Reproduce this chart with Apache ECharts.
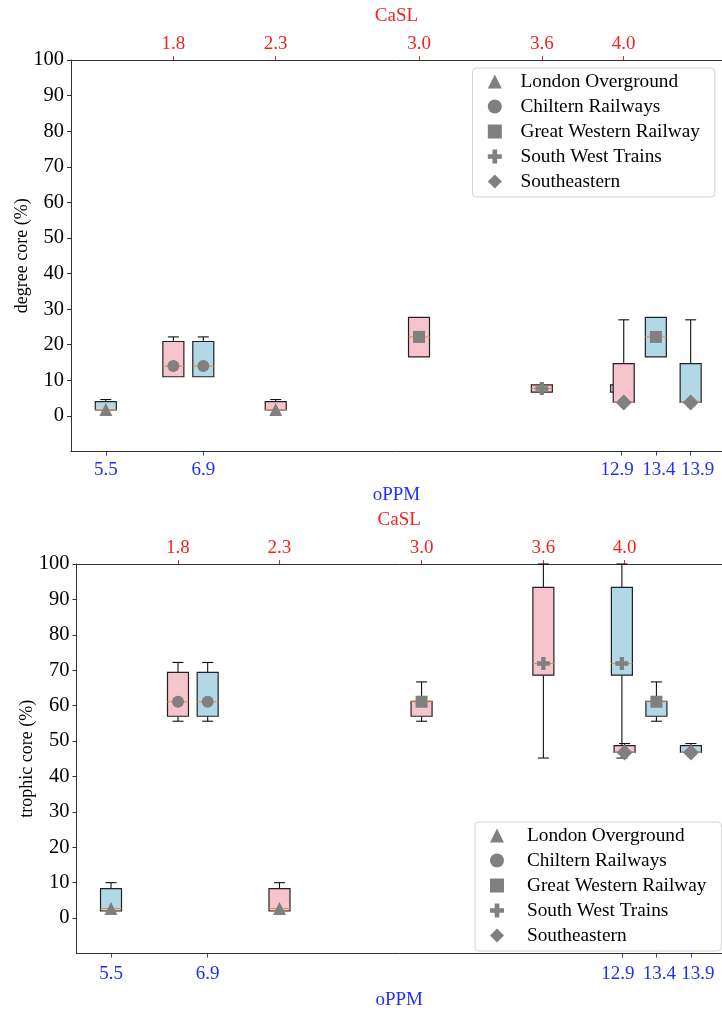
<!DOCTYPE html>
<html>
<head>
<meta charset="utf-8">
<script src="https://cdn.jsdelivr.net/npm/echarts@6/dist/echarts.min.js"></script>
<style>
  html, body { margin: 0; padding: 0; background: #fff; }
  #chart { width: 722px; height: 1013px; }
</style>
</head>
<body>
<div id="chart"></div>
<script>
// Operators and their two positions: CaSL (top axis, pink boxes) and oPPM (bottom axis, blue boxes)
const operators = ['London Overground', 'Chiltern Railways', 'Great Western Railway', 'South West Trains', 'Southeastern'];
const caslPos = [2.3, 1.8, 3.0, 3.6, 4.0];
const oppmPos = [5.5, 6.9, 13.4, 12.9, 13.9];

// Tick labels
const caslTicks = [1.8, 2.3, 3.0, 3.6, 4.0];
const oppmTicks = [5.5, 6.9, 12.9, 13.4, 13.9];
const yTicks = [0, 10, 20, 30, 40, 50, 60, 70, 80, 90, 100];

// Five-number summaries per operator: [min, q1, median, q3, max]
const degreeCore = [
  [1.7, 1.7, 1.8, 4.0, 4.6],
  [11.0, 11.0, 14.0, 20.9, 22.2],
  [16.6, 16.6, 22.2, 27.7, 27.7],
  [6.7, 6.7, 7.7, 8.7, 8.7],
  [3.8, 3.8, 3.8, 14.7, 27.0]
];
const trophicCore = [
  [2.0, 2.0, 2.7, 8.3, 10.0],
  [55.6, 57.0, 61.1, 69.4, 72.2],
  [55.6, 57.0, 61.1, 61.2, 66.7],
  [45.2, 68.6, 71.9, 93.4, 100],
  [46.8, 46.8, 46.8, 48.7, 49.3]
];

const PLUS = 'path://M4,0H8V4H12V8H8V12H4V8H0V4H4Z';
const markerShapes = ['triangle', 'circle', 'rect', PLUS, 'diamond'];
const markerSizes = [13, 12, 12, 13, 16];

// The crowded oPPM labels on the right are nudged apart (px, + = right)
const oppmLabelNudge = [0, 0, -4, 3, 7];

const FONT = "'Liberation Serif', 'Times New Roman', serif";
const RED = '#f52020';
const BLUE = '#2030f5';
const AXIS = '#333';
const MARKER = '#808080';

const chart = echarts.init(document.getElementById('chart'), null, { renderer: 'canvas' });

function boxRenderer(fill) {
  return function (params, api) {
    const x = api.value(0);
    const vMin = api.value(1), vQ1 = api.value(2), vMed = api.value(3), vQ3 = api.value(4), vMax = api.value(5);
    const pMin = api.coord([x, vMin]);
    const pQ1 = api.coord([x, vQ1]);
    const pMed = api.coord([x, vMed]);
    const pQ3 = api.coord([x, vQ3]);
    const pMax = api.coord([x, vMax]);
    const cx = pMed[0];
    const hw = 10.5, cw = 5.5;
    const lineStyle = { stroke: '#111', lineWidth: 1.1 };
    const children = [];
    if (vMax > vQ3) {
      children.push({ type: 'line', shape: { x1: cx, y1: pQ3[1], x2: cx, y2: pMax[1] }, style: lineStyle });
      children.push({ type: 'line', shape: { x1: cx - cw, y1: pMax[1], x2: cx + cw, y2: pMax[1] }, style: lineStyle });
    }
    if (vMin < vQ1) {
      children.push({ type: 'line', shape: { x1: cx, y1: pQ1[1], x2: cx, y2: pMin[1] }, style: lineStyle });
      children.push({ type: 'line', shape: { x1: cx - cw, y1: pMin[1], x2: cx + cw, y2: pMin[1] }, style: lineStyle });
    }
    children.push({
      type: 'rect',
      shape: { x: cx - hw, y: pQ3[1], width: hw * 2, height: pQ1[1] - pQ3[1] },
      style: { fill: fill, stroke: '#222', lineWidth: 1.2 }
    });
    children.push({
      type: 'line',
      shape: { x1: cx - hw, y1: pMed[1], x2: cx + hw, y2: pMed[1] },
      style: { stroke: '#f08a3a', lineWidth: 1 }
    });
    return { type: 'group', children: children };
  };
}

// rich styles for the oPPM labels, one per tick so each can be nudged
const oppmRich = {};
oppmTicks.forEach(function (t, i) {
  const n = oppmLabelNudge[i];
  oppmRich['t' + i] = {
    color: BLUE, fontFamily: FONT, fontSize: 19,
    padding: [0, n < 0 ? -2 * n : 0, 0, n > 0 ? 2 * n : 0]
  };
});

// Panel geometry
const panels = [
  { summary: degreeCore, yName: 'degree core (%)', left: 71, top: 60, height: 391.5,
    legendLeft: 472.5, legendTop: 68, iconPad: 15.3, textPad: 13.7, yNameGap: 40, oppmMargin: 9, oppmNameGap: 34 },
  { summary: trophicCore, yName: 'trophic core (%)', left: 76.5, top: 564, height: 389.5,
    legendLeft: 475, legendTop: 822, iconPad: 15, textPad: 18, yNameGap: 40, oppmMargin: 11, oppmNameGap: 37 }
];

const grid = [], xAxis = [], yAxis = [], series = [], legend = [];

panels.forEach(function (p, pi) {
  grid.push({ left: p.left, top: p.top, right: 0, height: p.height, containLabel: false });

  // CaSL axis on top
  xAxis.push({
    type: 'value', gridIndex: pi, position: 'top', min: 1.3, max: 4.48,
    name: 'CaSL', nameLocation: 'middle', nameGap: 34, nameMoveOverlap: false,
    nameTextStyle: { color: RED, fontFamily: FONT, fontSize: 19 },
    axisLine: { onZero: false, lineStyle: { color: AXIS, width: 1 } },
    axisTick: { customValues: caslTicks, length: 4, lineStyle: { color: RED } },
    axisLabel: { customValues: caslTicks, color: RED, fontFamily: FONT, fontSize: 19, margin: 6,
      formatter: function (v) { return v.toFixed(1); } },
    splitLine: { show: false }
  });
  // oPPM axis at the bottom
  xAxis.push({
    type: 'value', gridIndex: pi, position: 'bottom', min: 5.0, max: 14.35,
    name: 'oPPM', nameLocation: 'middle', nameGap: p.oppmNameGap, nameMoveOverlap: false,
    nameTextStyle: { color: BLUE, fontFamily: FONT, fontSize: 19 },
    axisLine: { onZero: false, lineStyle: { color: AXIS, width: 1 } },
    axisTick: { customValues: oppmTicks, length: 4, lineStyle: { color: BLUE } },
    axisLabel: { customValues: oppmTicks, color: BLUE, fontFamily: FONT, fontSize: 19, margin: p.oppmMargin,
      rich: oppmRich,
      formatter: function (v) {
        let idx = 0, best = Infinity;
        oppmTicks.forEach(function (t, i) { const d = Math.abs(t - v); if (d < best) { best = d; idx = i; } });
        return '{t' + idx + '|' + v.toFixed(1) + '}';
      } },
    splitLine: { show: false }
  });
  yAxis.push({
    type: 'value', gridIndex: pi, min: -10, max: 100, interval: 10,
    name: p.yName, nameLocation: 'middle', nameGap: p.yNameGap, nameRotate: 90, nameMoveOverlap: false,
    nameTextStyle: { color: '#000', fontFamily: FONT, fontSize: 18 },
    axisLine: { show: true, onZero: false, lineStyle: { color: AXIS, width: 1 } },
    axisTick: { show: true, customValues: yTicks, length: 4, lineStyle: { color: AXIS } },
    axisLabel: { customValues: yTicks, color: '#000', fontFamily: FONT, fontSize: 20.5, margin: 7 },
    splitLine: { show: false }
  });

  const xCasl = pi * 2, xOppm = pi * 2 + 1;
  const makeData = function (pos) {
    return operators.map(function (_, i) { return [pos[i]].concat(p.summary[i]); });
  };

  // blue boxes (oPPM) underneath, pink boxes (CaSL) on top
  series.push({
    type: 'custom', name: 'oPPM boxes', xAxisIndex: xOppm, yAxisIndex: pi, z: 2,
    renderItem: boxRenderer('#b3d8e5'), data: makeData(oppmPos),
    encode: { x: 0, y: [1, 2, 3, 4, 5] }, silent: true
  });
  operators.forEach(function (name, i) {
    series.push({
      type: 'scatter', name: name, xAxisIndex: xOppm, yAxisIndex: pi, z: 3,
      symbol: markerShapes[i], symbolSize: markerSizes[i],
      itemStyle: { color: MARKER, opacity: 1 },
      data: [[oppmPos[i], p.summary[i][2]]]
    });
  });
  series.push({
    type: 'custom', name: 'CaSL boxes', xAxisIndex: xCasl, yAxisIndex: pi, z: 4,
    renderItem: boxRenderer('#f5c4cd'), data: makeData(caslPos),
    encode: { x: 0, y: [1, 2, 3, 4, 5] }, silent: true
  });
  operators.forEach(function (name, i) {
    series.push({
      type: 'scatter', name: name, xAxisIndex: xCasl, yAxisIndex: pi, z: 5,
      symbol: markerShapes[i], symbolSize: markerSizes[i],
      itemStyle: { color: MARKER, opacity: 1 },
      data: [[caslPos[i], p.summary[i][2]]]
    });
  });

  legend.push({
    orient: 'vertical', left: p.legendLeft, top: p.legendTop,
    data: operators.map(function (n, i) { return { name: n, icon: markerShapes[i] }; }),
    itemWidth: 14, itemHeight: 14, itemGap: 6,
    padding: [4, 15, 6, p.iconPad],
    borderColor: '#d4d4d4', borderWidth: 1, borderRadius: 4,
    backgroundColor: 'rgba(255,255,255,0.85)',
    textStyle: { color: '#000', fontFamily: FONT, fontSize: 19.3, lineHeight: 18, padding: [0, 0, 0, p.textPad] },
    selectedMode: false
  });
});

chart.setOption({
  animation: false,
  backgroundColor: '#fff',
  grid: grid, xAxis: xAxis, yAxis: yAxis, legend: legend, series: series
});
</script>
</body>
</html>
